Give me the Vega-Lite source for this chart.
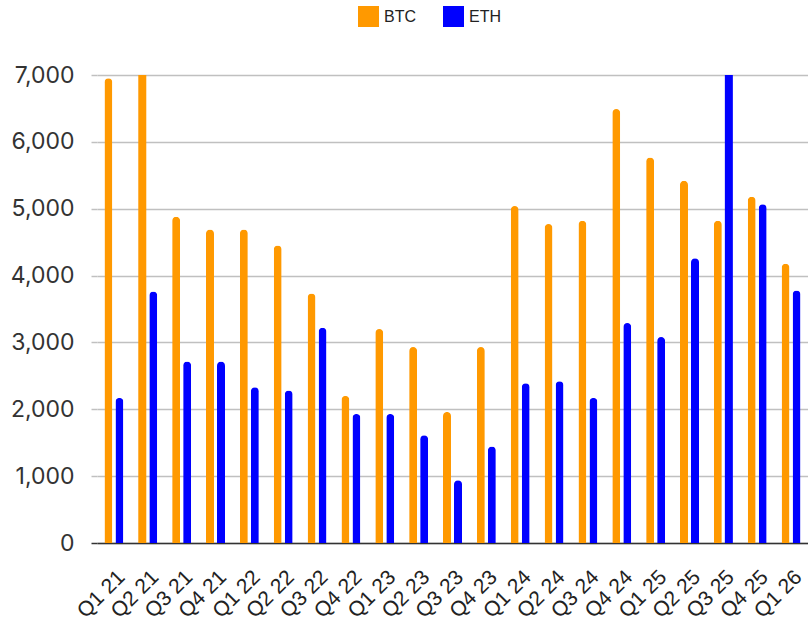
{
  "$schema": "https://vega.github.io/schema/vega-lite/v6.json",
  "width": 711,
  "height": 468,
  "autosize": "none",
  "padding": {"left": 97, "top": 75, "right": 0, "bottom": 83},
  "background": "white",
  "config": {"view": {"stroke": null}},
  "data": {"values": [
    {"quarter": "Q1 21", "series": "BTC", "value": 6950}, {"quarter": "Q1 21", "series": "ETH", "value": 2170},
    {"quarter": "Q2 21", "series": "BTC", "value": 7600}, {"quarter": "Q2 21", "series": "ETH", "value": 3760},
    {"quarter": "Q3 21", "series": "BTC", "value": 4880}, {"quarter": "Q3 21", "series": "ETH", "value": 2715},
    {"quarter": "Q4 21", "series": "BTC", "value": 4690}, {"quarter": "Q4 21", "series": "ETH", "value": 2715},
    {"quarter": "Q1 22", "series": "BTC", "value": 4690}, {"quarter": "Q1 22", "series": "ETH", "value": 2330},
    {"quarter": "Q2 22", "series": "BTC", "value": 4450}, {"quarter": "Q2 22", "series": "ETH", "value": 2280},
    {"quarter": "Q3 22", "series": "BTC", "value": 3730}, {"quarter": "Q3 22", "series": "ETH", "value": 3220},
    {"quarter": "Q4 22", "series": "BTC", "value": 2200}, {"quarter": "Q4 22", "series": "ETH", "value": 1930},
    {"quarter": "Q1 23", "series": "BTC", "value": 3200}, {"quarter": "Q1 23", "series": "ETH", "value": 1930},
    {"quarter": "Q2 23", "series": "BTC", "value": 2930}, {"quarter": "Q2 23", "series": "ETH", "value": 1610},
    {"quarter": "Q3 23", "series": "BTC", "value": 1960}, {"quarter": "Q3 23", "series": "ETH", "value": 940},
    {"quarter": "Q4 23", "series": "BTC", "value": 2930}, {"quarter": "Q4 23", "series": "ETH", "value": 1445},
    {"quarter": "Q1 24", "series": "BTC", "value": 5040}, {"quarter": "Q1 24", "series": "ETH", "value": 2390},
    {"quarter": "Q2 24", "series": "BTC", "value": 4770}, {"quarter": "Q2 24", "series": "ETH", "value": 2420},
    {"quarter": "Q3 24", "series": "BTC", "value": 4820}, {"quarter": "Q3 24", "series": "ETH", "value": 2170},
    {"quarter": "Q4 24", "series": "BTC", "value": 6490}, {"quarter": "Q4 24", "series": "ETH", "value": 3290},
    {"quarter": "Q1 25", "series": "BTC", "value": 5765}, {"quarter": "Q1 25", "series": "ETH", "value": 3080},
    {"quarter": "Q2 25", "series": "BTC", "value": 5420}, {"quarter": "Q2 25", "series": "ETH", "value": 4260},
    {"quarter": "Q3 25", "series": "BTC", "value": 4820}, {"quarter": "Q3 25", "series": "ETH", "value": 7800},
    {"quarter": "Q4 25", "series": "BTC", "value": 5180}, {"quarter": "Q4 25", "series": "ETH", "value": 5065},
    {"quarter": "Q1 26", "series": "BTC", "value": 4175}, {"quarter": "Q1 26", "series": "ETH", "value": 3775}
  ]},
  "encoding": {
    "x": {
      "field": "quarter", "type": "nominal", "sort": null,
      "scale": {"paddingInner": 0, "paddingOuter": 0},
      "axis": {
        "title": null, "ticks": false, "tickSize": 0,
        "domain": true, "domainColor": "#333333", "domainWidth": 1.5,
        "labelAngle": -45, "labelAlign": "right", "labelBaseline": "alphabetic",
        "labelFont": "Liberation Sans", "labelFontSize": 21, "labelColor": "#222222",
        "labelOffset": 12, "labelPadding": 35, "labelOverlap": false
      }
    },
    "xOffset": {
      "field": "series", "type": "nominal", "sort": ["BTC", "ETH"],
      "scale": {"paddingInner": 0.273, "paddingOuter": 0.675}
    },
    "y": {
      "field": "value", "type": "quantitative",
      "scale": {"domain": [0, 7000], "nice": false, "clamp": true},
      "axis": {
        "title": null, "values": [0, 1000, 2000, 3000, 4000, 5000, 6000, 7000], "format": ",d",
        "domain": false, "grid": true, "gridColor": "#c0c0c0", "gridWidth": 1.5,
        "tickSize": 6, "tickWidth": 1.5,
        "tickColor": {"condition": {"test": "datum.value === 0", "value": "#333333"}, "value": "#c0c0c0"},
        "labelFont": "Inter", "labelFontSize": 23, "labelColor": "#333333", "labelPadding": 17
      }
    },
    "color": {
      "field": "series", "type": "nominal",
      "scale": {"domain": ["BTC", "ETH"], "range": ["#FF9900", "#0000FF"]},
      "legend": {
        "title": null, "orient": "none", "legendX": 261, "legendY": -69, "direction": "horizontal",
        "symbolType": "square", "symbolSize": 441, "symbolStrokeWidth": 0, "symbolOpacity": 1,
        "labelFont": "Liberation Sans", "labelFontSize": 16, "labelColor": "#222222",
        "labelOffset": 5, "columnPadding": 27
      }
    }
  },
  "layer": [
    {
      "transform": [{"filter": "datum.value < 7000"}],
      "mark": {"type": "bar", "cornerRadiusTopLeft": 4, "cornerRadiusTopRight": 4}
    },
    {
      "transform": [{"filter": "datum.value >= 7000"}],
      "mark": {"type": "bar"}
    }
  ]
}
